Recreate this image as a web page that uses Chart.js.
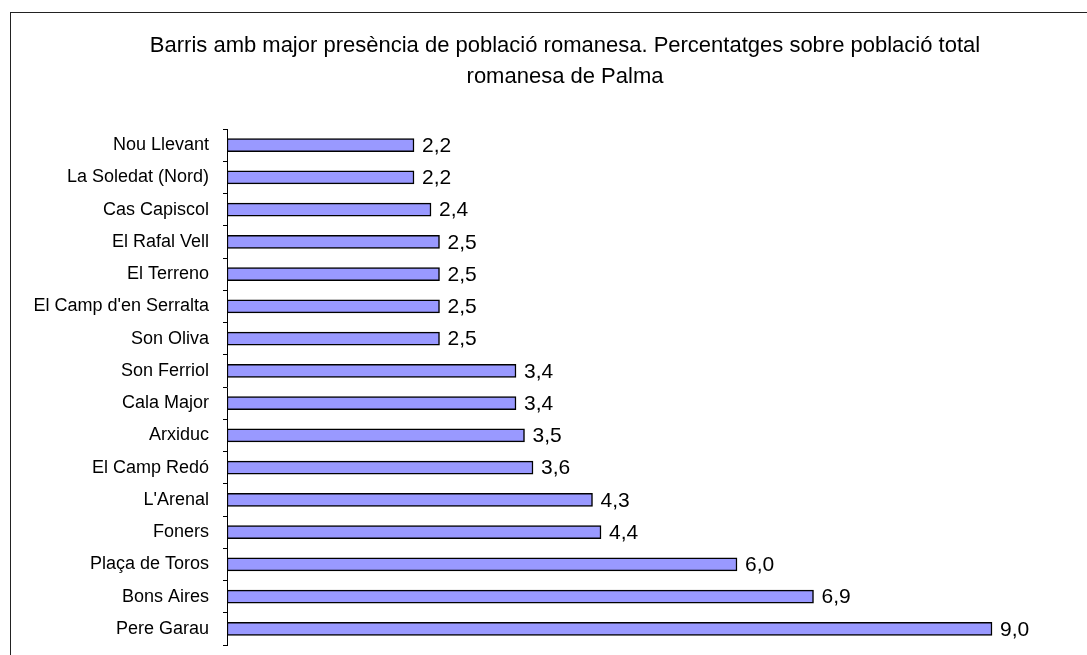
<!DOCTYPE html>
<html>
<head>
<meta charset="utf-8">
<script src="https://cdn.jsdelivr.net/npm/chart.js@4/dist/chart.umd.min.js"></script>
<style>
  html, body { margin: 0; padding: 0; background: #fff; overflow: hidden; }
  #wrap { position: relative; width: 1087px; height: 655px; }
  #frame { position: absolute; left: 10px; top: 12px; width: 2000px; height: 2000px; border: 1px solid #222; box-sizing: border-box; pointer-events: none; }
  canvas { position: absolute; left: 0; top: 0; }
</style>
</head>
<body>
<div id="wrap">
  <div id="frame"></div>
  <canvas id="c" width="1087" height="655"></canvas>
</div>
<script>
const titleLines = [
  "Barris amb major presència de població romanesa. Percentatges sobre població total",
  "romanesa de Palma"
];
const categories = [
  "Nou Llevant", "La Soledat (Nord)", "Cas Capiscol", "El Rafal Vell", "El Terreno",
  "El Camp d'en Serralta", "Son Oliva", "Son Ferriol", "Cala Major", "Arxiduc",
  "El Camp Redó", "L'Arenal", "Foners", "Plaça de Toros", "Bons Aires", "Pere Garau"
];
const percentages = [2.2, 2.2, 2.4, 2.5, 2.5, 2.5, 2.5, 3.4, 3.4, 3.5, 3.6, 4.3, 4.4, 6.0, 6.9, 9.0];
const axisMin = 0;
const axisMax = 10;

const FONT = '"Liberation Sans", Arial, sans-serif';

const titleText = {
  id: 'titleText',
  afterDraw(chart) {
    const ctx = chart.ctx;
    ctx.save();
    ctx.font = '22px ' + FONT;
    ctx.fillStyle = '#000';
    ctx.textAlign = 'center';
    ctx.textBaseline = 'middle';
    ctx.fillText(titleLines[0], 565, 46);
    ctx.fillText(titleLines[1], 565, 77);
    ctx.restore();
  }
};

const valueLabels = {
  id: 'valueLabels',
  afterDatasetsDraw(chart) {
    const ctx = chart.ctx;
    const meta = chart.getDatasetMeta(0);
    ctx.save();
    ctx.font = '21px ' + FONT;
    ctx.fillStyle = '#000';
    ctx.textAlign = 'left';
    ctx.textBaseline = 'middle';
    meta.data.forEach((bar, i) => {
      const v = chart.data.datasets[0].data[i];
      ctx.fillText(v.toFixed(1).replace('.', ','), bar.x + 8, bar.y + 1);
    });
    ctx.restore();
  }
};

new Chart(document.getElementById('c'), {
  type: 'bar',
  data: {
    labels: categories,
    datasets: [{
      data: percentages,
      backgroundColor: '#9999FF',
      borderColor: '#000000',
      borderWidth: 1.5,
      borderSkipped: false,
      barThickness: 13
    }]
  },
  options: {
    indexAxis: 'y',
    responsive: false,
    animation: false,
    devicePixelRatio: 1,
    layout: { padding: { left: 12, right: 10, top: 129, bottom: 10 } },
    plugins: {
      legend: { display: false },
      tooltip: { enabled: false },
      title: { display: false }
    },
    scales: {
      x: {
        display: false,
        min: axisMin,
        max: axisMax
      },
      y: {
        offset: true,
        afterFit(scale) {
          scale.width = 215;
          scale.paddingTop = 0;
          scale.paddingBottom = 0;
        },
        grid: {
          display: true,
          offset: true,
          drawOnChartArea: false,
          drawTicks: true,
          tickLength: 4,
          tickColor: '#000',
          tickWidth: 1
        },
        border: { display: true, color: '#000', width: 1 },
        ticks: {
          color: '#000',
          padding: 14,
          autoSkip: false,
          font: { family: FONT, size: 18 }
        }
      }
    }
  },
  plugins: [valueLabels, titleText]
});
</script>
</body>
</html>
